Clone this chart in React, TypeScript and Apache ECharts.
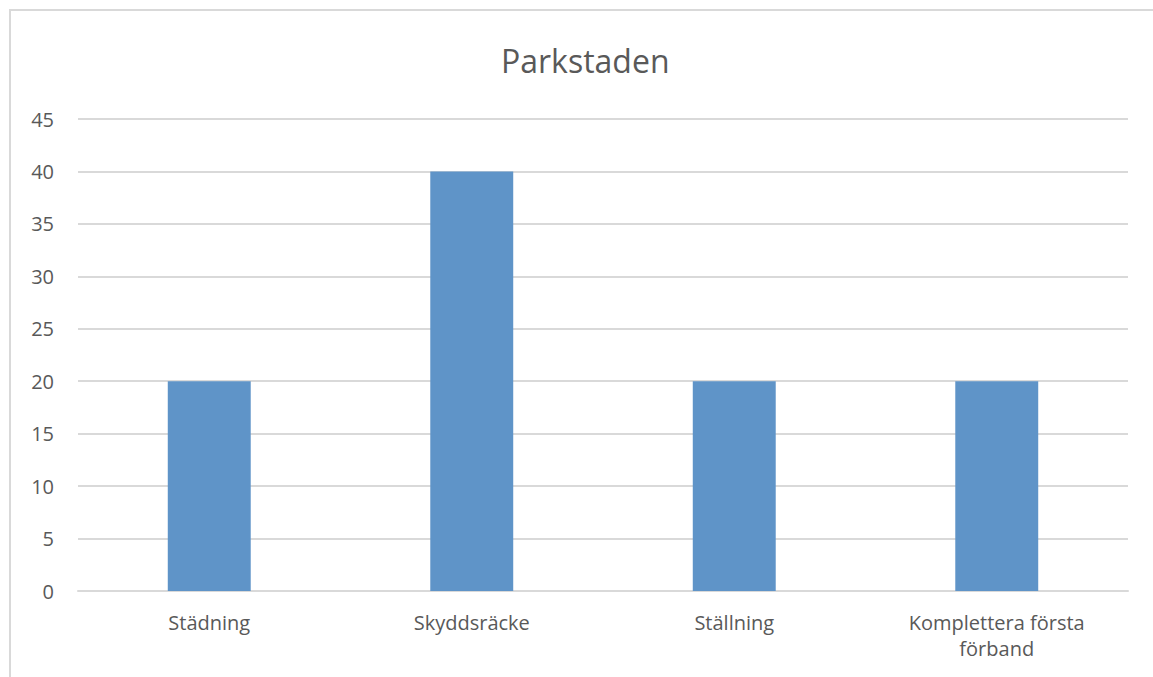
import React, { useEffect, useRef } from "react";
import * as echarts from "echarts";

const categories = ["Städning", "Skyddsräcke", "Ställning", "Komplettera första\nförband"];
const values = [20, 40, 20, 20];
const yTicks = { min: 0, max: 45, interval: 5 };
const title = "Parkstaden";

export default function App() {
  const ref = useRef<HTMLDivElement>(null);
  useEffect(() => {
    document.body.style.margin = "0";
    const chart = echarts.init(ref.current!, null, { renderer: "svg" });
    const font = "'Open Sans', sans-serif";
    chart.setOption({
      animation: false,
      backgroundColor: "#ffffff",
      title: {
        text: title,
        left: 496,
        top: 39,
        textStyle: { fontFamily: font, fontSize: 32, fontWeight: "normal", color: "#595959" },
      },
      graphic: [
        {
          type: "rect",
          shape: { x: 10, y: 10, width: 1300, height: 800 },
          style: { fill: "none", stroke: "#d9d9d9", lineWidth: 2 },
          silent: true,
        },
      ],
      grid: { left: 78, right: 25, top: 119, bottom: 86, containLabel: false },
      xAxis: {
        type: "category",
        data: categories,
        axisLine: { show: true, lineStyle: { color: "#d9d9d9", width: 2 } },
        axisTick: { show: false },
        axisLabel: {
          interval: 0,
          margin: 18,
          fontFamily: font,
          fontSize: 20,
          color: "#595959",
          lineHeight: 26,
        },
      },
      yAxis: {
        type: "value",
        min: yTicks.min,
        max: yTicks.max,
        interval: yTicks.interval,
        axisLine: { show: false },
        axisTick: { show: false },
        splitLine: { lineStyle: { color: "#d9d9d9", width: 2 } },
        axisLabel: { margin: 24, fontFamily: font, fontSize: 20, color: "#595959" },
      },
      series: [
        {
          type: "bar",
          data: values,
          barWidth: "31.6%",
          itemStyle: { color: "#5f94c8" },
        },
      ],
    });
    return () => chart.dispose();
  }, []);
  return (
    <div
      ref={ref}
      style={{ position: "absolute", left: 0, top: 0, width: 1153, height: 677 }}
    />
  );
}
